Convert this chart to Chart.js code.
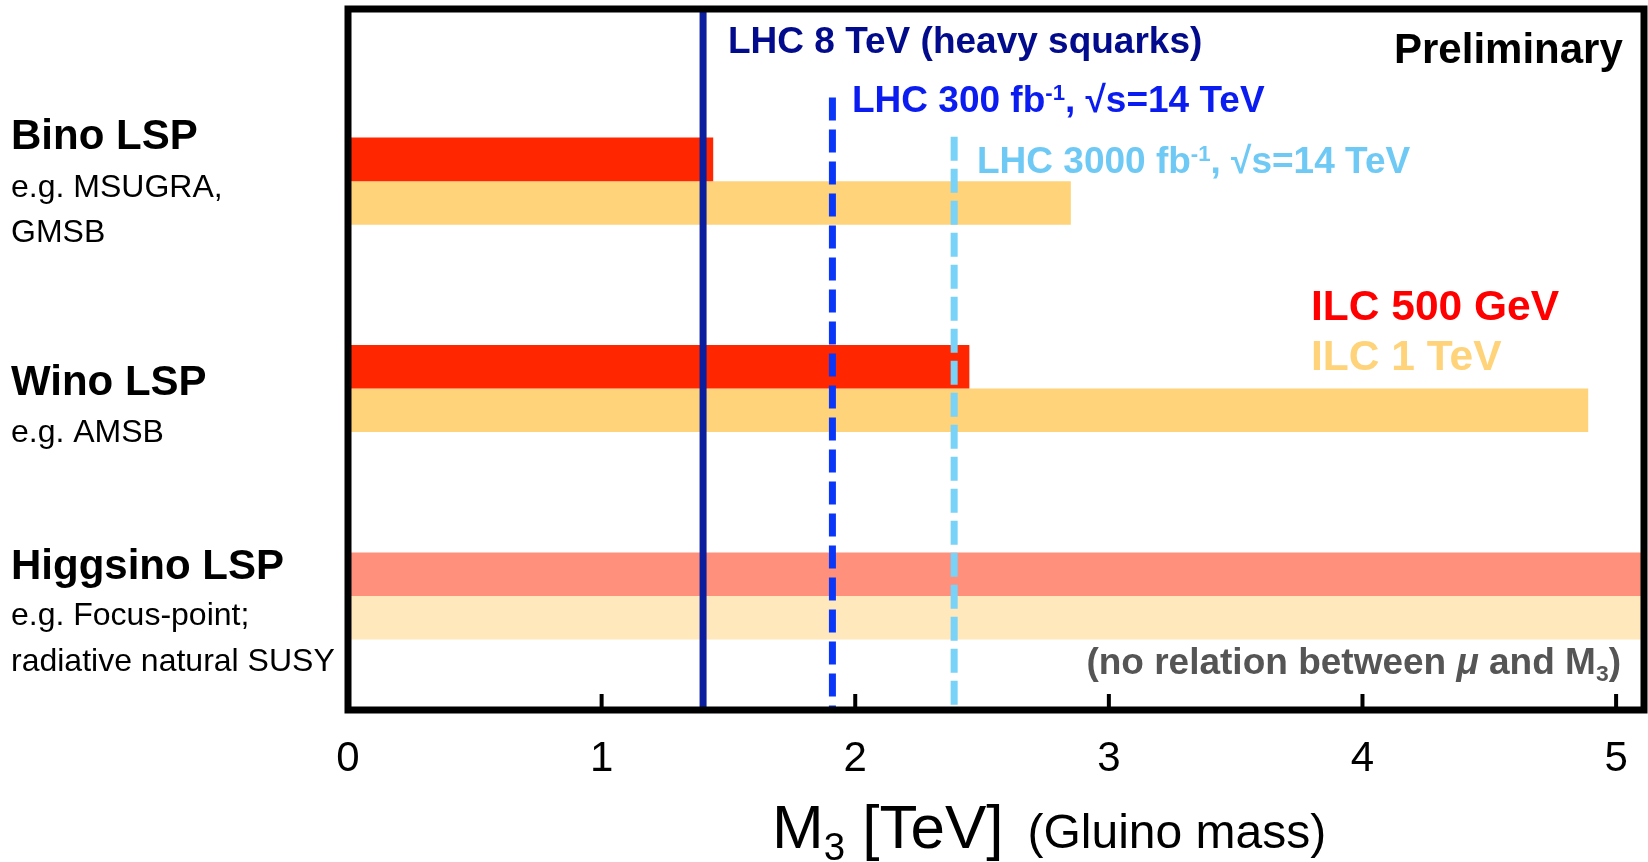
<!DOCTYPE html>
<html>
<head>
<meta charset="utf-8">
<title>Gluino mass reach</title>
<script src="https://cdn.jsdelivr.net/npm/chart.js@4.4.1/dist/chart.umd.min.js"></script>
<style>
  html, body { margin: 0; padding: 0; background: #fff; }
  canvas { display: block; }
</style>
</head>
<body>
<canvas id="myChart" width="1648" height="862"></canvas>
<script>
// rows of the chart, top to bottom
const scenarios = ['Bino LSP', 'Wino LSP', 'Higgsino LSP'];
const scenarioNotes = [['e.g. MSUGRA,', 'GMSB'], ['e.g. AMSB'], ['e.g. Focus-point;', 'radiative natural SUSY']];
const rowIndex = [1, 2, 3];

// ILC reach on M3 [TeV]
const ilcLabels = ['ILC 500 GeV', 'ILC 1 TeV'];
const ilc500 = [1.44, 2.45, 5.2];
const ilc1000 = [2.85, 4.89, 5.2];

// LHC limits on M3 [TeV]
const lhcLabels = ['LHC 8 TeV (heavy squarks)', 'LHC 300 fb^{-1}, √s=14 TeV', 'LHC 3000 fb^{-1}, √s=14 TeV'];
const lhcLimits = [1.40, 1.91, 2.39];

const xTicks = [0, 1, 2, 3, 4, 5];

const FONT = "'Liberation Sans', Arial, sans-serif";
const X_MAX = 5.11;
const Y_MIN = 0.17, Y_MAX = 3.55;

const lineStyle = [
    { color: '#0b1f9e', dash: [], top: Y_MIN, text: '#020b8c', tx: 728, ty: 53 },
    { color: '#0a37f7', dash: [23, 9], top: 0.597, text: '#0a1cf0', tx: 852, ty: 112 },
    { color: '#79d2f7', dash: [24, 8], top: 0.786, text: '#6ec9f5', tx: 977, ty: 173 }
];

// draws text with ^{sup}, _{sub} and *{italic} pieces
function drawRich(ctx, str, x, y, size, weight, color, align) {
    const parts = str.split(/(\^\{[^}]*\}|_\{[^}]*\}|\*\{[^}]*\})/).filter(p => p.length);
    const runs = parts.map(p => {
        if (p.startsWith('^{')) return { t: p.slice(2, -1), s: size * 0.6, dy: -size * 0.33, it: '' };
        if (p.startsWith('_{')) return { t: p.slice(2, -1), s: size * 0.62, dy: size * 0.2, it: '' };
        if (p.startsWith('*{')) return { t: p.slice(2, -1), s: size, dy: 0, it: 'italic ' };
        return { t: p, s: size, dy: 0, it: '' };
    });
    let total = 0;
    runs.forEach(r => {
        ctx.font = `${r.it}${weight} ${r.s}px ${FONT}`;
        r.w = ctx.measureText(r.t).width;
        total += r.w;
    });
    let cx = align === 'right' ? x - total : x;
    ctx.fillStyle = color;
    ctx.textAlign = 'left';
    ctx.textBaseline = 'alphabetic';
    runs.forEach(r => {
        ctx.font = `${r.it}${weight} ${r.s}px ${FONT}`;
        ctx.fillText(r.t, cx, y + r.dy);
        cx += r.w;
    });
    return cx;
}

const framePlugin = {
    id: 'frame',
    afterDatasetsDraw(chart) {
        const { ctx, chartArea: a, scales: { x } } = chart;
        ctx.save();
        ctx.strokeStyle = '#000';
        ctx.lineWidth = 7;
        ctx.strokeRect(a.left, a.top, a.right - a.left, a.bottom - a.top);
        ctx.lineWidth = 4;
        x.ticks.forEach(t => {
            if (t.value === 0) return;
            const px = x.getPixelForValue(t.value);
            ctx.beginPath();
            ctx.moveTo(px, a.bottom);
            ctx.lineTo(px, a.bottom - 16);
            ctx.stroke();
        });
        ctx.restore();
    },
    afterDraw(chart) {
        const ctx = chart.ctx;
        ctx.save();
        // row labels
        const titleY = [149, 395, 579];
        const noteY = [[197, 242], [442], [625, 671]];
        scenarios.forEach((s, i) => {
            drawRich(ctx, s, 11, titleY[i], 42, 'bold', '#000');
            scenarioNotes[i].forEach((n, j) => drawRich(ctx, n, 11, noteY[i][j], 32, 'normal', '#000'));
        });
        // LHC labels
        lhcLabels.forEach((l, i) => {
            const st = lineStyle[i];
            drawRich(ctx, l, st.tx, st.ty, 37, 'bold', st.text);
        });
        drawRich(ctx, 'Preliminary', 1394, 63, 42, 'bold', '#000');
        // ILC legend
        drawRich(ctx, ilcLabels[0], 1311, 320, 42.5, 'bold', '#ff0000');
        drawRich(ctx, ilcLabels[1], 1311, 370, 42.5, 'bold', '#fed37a');
        drawRich(ctx, '(no relation between *{μ} and M_{3})', 1621, 674, 37, 'bold', '#555555', 'right');
        // axis title
        const end = drawRich(ctx, 'M_{3} [TeV]', 772, 848, 62, 'normal', '#000');
        drawRich(ctx, '(Gluino mass)', end + 24, 848, 48, 'normal', '#000');
        ctx.restore();
    }
};

const barColors500 = ['#ff2600', '#ff2600', '#ff917c'];
const barColors1000 = ['#fed37a', '#fed37a', '#ffe8bc'];

const ctx = document.getElementById('myChart');
new Chart(ctx, {
    type: 'bar',
    data: {
        datasets: [
            {
                label: ilcLabels[0],
                data: rowIndex.map((r, i) => ({ x: ilc500[i], y: r })),
                backgroundColor: barColors500,
                borderWidth: 0,
                categoryPercentage: 0.42,
                barPercentage: 1,
                order: 2
            },
            {
                label: ilcLabels[1],
                data: rowIndex.map((r, i) => ({ x: ilc1000[i], y: r })),
                backgroundColor: barColors1000,
                borderWidth: 0,
                categoryPercentage: 0.42,
                barPercentage: 1,
                order: 2
            },
            ...lhcLimits.map((v, i) => ({
                type: 'line',
                label: lhcLabels[i],
                data: [{ x: v, y: lineStyle[i].top }, { x: v, y: Y_MAX }],
                borderColor: lineStyle[i].color,
                borderWidth: 7,
                borderDash: lineStyle[i].dash,
                borderCapStyle: 'butt',
                pointRadius: 0,
                fill: false,
                order: 1
            }))
        ]
    },
    options: {
        indexAxis: 'y',
        responsive: false,
        animation: false,
        layout: { padding: { left: 348, right: 4, top: 9, bottom: 0 } },
        plugins: { legend: { display: false }, tooltip: { enabled: false } },
        scales: {
            x: {
                type: 'linear',
                min: 0,
                max: X_MAX,
                grid: { display: false },
                border: { display: false },
                ticks: {
                    color: '#000',
                    font: { family: FONT, size: 42 },
                    padding: 16,
                    includeBounds: false
                },
                afterBuildTicks: s => { s.ticks = xTicks.map(v => ({ value: v })); },
                afterFit: s => { s.height = 152; }
            },
            y: {
                type: 'linear',
                reverse: true,
                offset: false,
                min: Y_MIN,
                max: Y_MAX,
                display: false,
                afterBuildTicks: s => { s.ticks = rowIndex.map(v => ({ value: v })); }
            }
        }
    },
    plugins: [framePlugin]
});
</script>
</body>
</html>
